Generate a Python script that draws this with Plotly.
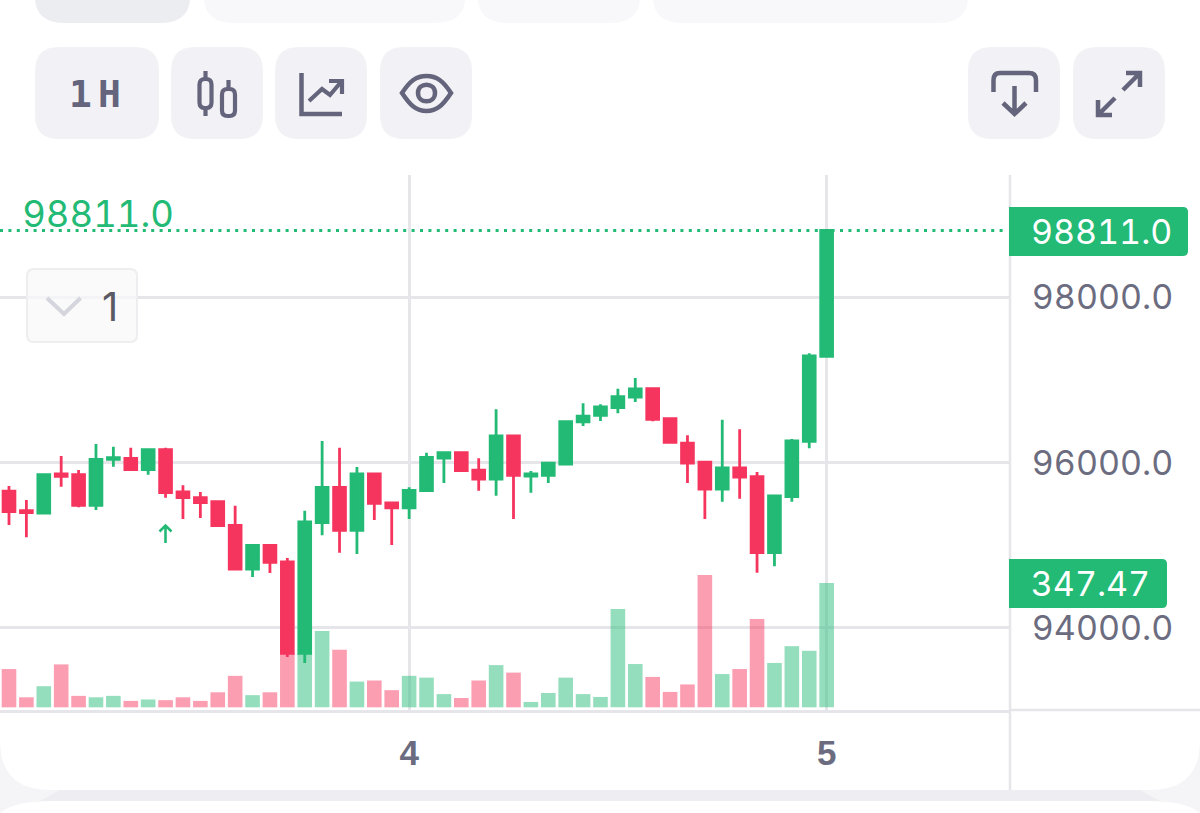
import re
import plotly.graph_objects as go

# ---------- data ----------
candle_index = list(range(48))
open_ = [95657,95419,95391,95863,95855,95484,96041,96053,95916,96158,95645,95577,
         95528,95242,94713,95000,94798,93692,95274,95702,95181,95863,95512,95452,
         95661,96057,96121,95911,95802,96323,95839,95847,95984,96493,96573,96666,
         96795,96896,96533,96238,96008,95681,95936,95831,94911,95589,96259,97288]
high = [95718,95548,95855,96081,95912,96226,96194,96182,96158,96182,95726,95645,
        95540,95480,95000,95000,94846,95419,96263,96182,95948,95863,95512,95702,
        96121,96121,96121,96053,96646,96323,95899,95996,96497,96719,96707,96896,
        97025,96896,96533,96331,96020,96521,96404,95887,95597,96287,97324,98811]
low = [95246,95096,95379,95710,95460,95427,95952,95916,95855,95577,95318,95330,
       95225,94713,94616,94664,93647,93575,95121,94911,94895,95306,95003,95318,
       95661,95754,95903,95661,95601,95318,95637,95754,95984,96444,96505,96598,
       96735,96501,96234,95754,95318,95528,95564,94668,94745,95528,96174,97288]
close = [95407,95395,95855,95835,95484,96041,96061,95916,96158,95637,95577,95516,
         95238,94713,95000,94794,93692,95282,95702,95181,95863,95508,95452,95665,
         96065,96121,95903,95802,96323,95847,95863,95996,96497,96565,96674,96799,
         96892,96525,96246,95996,95681,95936,95827,94911,95597,96263,97292,98811]
volume = [107,28,59,120,32,28,32,18,22,20,28,18,42,88,34,42,151,151,213,161,72,75,48,88,
          83,37,26,75,118,97,15,40,83,37,29,275,121,85,43,64,370,93,107,247,124,171,158,347.47]
price_ticks = [94000, 96000, 98000]
day_ticks = [23, 47]
day_labels = ["4", "5"]
button_label = "1H"
collapse_count = "1"

# ---------- palette ----------
GREEN = "#22ba75"
RED = "#f6355f"
GREEN_A = "rgba(34,186,117,0.48)"
RED_A = "rgba(246,53,95,0.48)"
GRID = "#e6e6ea"
ICON = "#64647c"
AXIS_TEXT = "#6c6c80"
BTN = "#f2f2f6"

# ---------- page pixel helpers ----------
L, R, T, B = 0, 1010, 175, 710
def px(x): return (x - L) / (R - L)
def py(y): return (B - y) / (B - T)

def path(d):
    toks = re.findall(r"[MLQCZ]|-?\d+\.?\d*", d)
    out, is_x = [], True
    for t in toks:
        if t.isalpha():
            out.append(t); is_x = True
        else:
            out.append(f"{px(float(t)):.5f}," if is_x else f"{py(float(t)):.5f}")
            is_x = not is_x
    return " ".join(out)

def rrect(x0, y0, x1, y1, r, rb=None):
    rb = r if rb is None else rb
    return (f"M {x0+r} {y0} L {x1-r} {y0} Q {x1} {y0} {x1} {y0+r} L {x1} {y1-rb} "
            f"Q {x1} {y1} {x1-rb} {y1} L {x0+rb} {y1} Q {x0} {y1} {x0} {y1-rb} L {x0} {y0+r} "
            f"Q {x0} {y0} {x0+r} {y0} Z")

def shape(d, fill=None, line=None, w=0, layer="below"):
    s = dict(type="path", xref="paper", yref="paper", path=path(d), layer=layer,
             line=dict(color=line or "rgba(0,0,0,0)", width=w))
    if fill:
        s["fillcolor"] = fill
    return s

shapes = []
# lower page bands
shapes.append(shape("M 0 790 L 1200 790 L 1200 813 L 0 813 Z", fill="#eeeef2"))
shapes.append(shape("M 0 740 Q 0 790 50 790 L 0 790 Z", fill="#f5f5f8"))
shapes.append(shape("M 1200 740 Q 1200 790 1150 790 L 1200 790 Z", fill="#f5f5f8"))
shapes.append(shape("M 0 790 L 60 790 L 40 801 Q 15 803 0 813 Z", fill="#f5f5f8"))
shapes.append(shape("M 1200 790 L 1140 790 L 1160 801 Q 1185 803 1200 813 Z", fill="#f5f5f8"))
shapes.append(shape("M 0 813 Q 15 801 50 801 L 1150 801 Q 1185 801 1200 813 Z", fill="#ffffff"))
# cropped tabs on top
shapes.append(shape("M 35 -30 L 190 -30 L 190 0 Q 188 23 160 23 L 65 23 Q 37 23 35 0 Z", fill="#ecedf1"))
shapes.append(shape("M 204 -30 L 465 -30 L 465 0 Q 463 23 435 23 L 234 23 Q 206 23 204 0 Z", fill="#f8f8fb"))
shapes.append(shape("M 478 -30 L 640 -30 L 640 0 Q 638 23 610 23 L 508 23 Q 480 23 478 0 Z", fill="#f8f8fb"))
shapes.append(shape("M 653 -30 L 968 -30 L 968 0 Q 966 23 938 23 L 683 23 Q 655 23 653 0 Z", fill="#f8f8fb"))
# buttons
for x0, x1 in [(35, 159), (171, 263), (275, 367), (380, 472), (968, 1060), (1073, 1165)]:
    shapes.append(shape(rrect(x0, 47, x1, 139, 24), fill=BTN))
# candle icon
shapes.append(shape(rrect(199.5, 79, 211.5, 108, 5.5), line=ICON, w=4.2))
shapes.append(shape(rrect(222, 89, 235, 116, 5.5), line=ICON, w=4.2))
shapes.append(shape("M 205.5 71 L 205.5 79 M 205.5 108 L 205.5 116 M 228.5 80 L 228.5 89", line=ICON, w=4.2))
# chart icon
shapes.append(shape("M 301.5 73 L 301.5 114 L 342 114", line=ICON, w=4.5))
shapes.append(shape("M 309 101 L 322 89 L 330 95 L 341 82 M 329 81 L 342 81 L 342 94", line=ICON, w=4.2))
# eye icon
shapes.append(shape("M 402 93 C 410 81 416 76 426.5 76 C 437 76 443 81 451 93 C 443 105 437 111 426.5 111 C 416 111 410 105 402 93 Z", line=ICON, w=4.5))
shapes.append(shape("M 418 93 C 418 82 435 82 435 93 C 435 104 418 104 418 93 Z", line=ICON, w=4.5))
# download icon
shapes.append(shape("M 993.5 92 L 993.5 80 Q 993.5 73 1000 73 L 1029 73 Q 1036 73 1036 80 L 1036 92", line=ICON, w=4.5))
shapes.append(shape("M 1014.5 86 L 1014.5 114 M 1003 103 L 1014.5 114 L 1026 103", line=ICON, w=4.5))
# expand icon
shapes.append(shape("M 1126 73 L 1140 73 L 1140 87 M 1140 73 L 1123 90", line=ICON, w=4.5))
shapes.append(shape("M 1098 100 L 1098 115 L 1112 115 M 1098 115 L 1115 98", line=ICON, w=4.5))
# right rail + bottom rule
shapes.append(shape("M 1010 175 L 1010 790", line=GRID, w=2.5))
shapes.append(shape("M 1010 710 L 1200 710", line=GRID, w=2.5))
# collapsed indicator box
shapes.append(shape(rrect(27, 269, 137, 342, 7), fill="rgba(248,248,250,0.75)", line="#eeeef1", w=2, layer="above"))
shapes.append(shape("M 47 298 L 64 314 L 80.5 298", line="#d5d5de", w=4, layer="above"))
# trade marker
shapes.append(shape("M 159.5 531.5 L 165.5 525.5 L 171.5 531.5 M 165.5 526 L 165.5 543", line=GREEN, w=2.6, layer="above"))
# last-price tags
shapes.append(shape("M 1009 207 L 1183 207 Q 1188 207 1188 212 L 1188 251 Q 1188 256 1183 256 L 1009 256 Z", fill=GREEN, layer="above"))
shapes.append(shape("M 1009 559 L 1162 559 Q 1167 559 1167 564 L 1167 603 Q 1167 608 1162 608 L 1009 608 Z", fill=GREEN, layer="above"))
# last-price dotted rule
shapes.append(dict(type="line", xref="paper", yref="y2", x0=0, x1=px(1008), y0=close[-1], y1=close[-1],
                   layer="above", line=dict(color=GREEN, width=3, dash="3px,5.4px")))

def note(text, x, y, color, size, family="Inter", anchor="left", weight=None):
    f = dict(family=family, size=size, color=color)
    if weight:
        f["weight"] = weight
    return dict(text=text, x=px(x), y=py(y), xref="paper", yref="paper", showarrow=False,
                xanchor=anchor, yanchor="middle", font=f, borderpad=0, borderwidth=0)

annotations = [
    note(f"{close[-1]:.1f}", 33, 214, GREEN, 36.5),
    note(f"{close[-1]:.1f}", 1041, 232, "#ffffff", 34),
    note(f"{volume[-1]:.2f}", 1036, 583, "#ffffff", 34),
    note(collapse_count, 110, 306, "#5a5a62", 40, anchor="center"),
    note(button_label, 75, 94, ICON, 38, family="DejaVu Sans Mono", weight=700),
]

fig = go.Figure()
fig.add_trace(go.Bar(
    x=candle_index, y=volume, yaxis="y", xaxis="x",
    marker=dict(color=[GREEN_A if c >= o else RED_A for o, c in zip(open_, close)], line=dict(width=0)),
    hoverinfo="skip", showlegend=False))
fig.add_trace(go.Candlestick(
    x=candle_index, open=open_, high=high, low=low, close=close, yaxis="y2", xaxis="x",
    whiskerwidth=0,
    increasing=dict(line=dict(color=GREEN, width=2.8), fillcolor=GREEN),
    decreasing=dict(line=dict(color=RED, width=2.8), fillcolor=RED),
    showlegend=False))

fig.update_layout(
    width=1200, height=813, autosize=False,
    margin=dict(l=L, r=1200 - R, t=T, b=813 - B, pad=0),
    paper_bgcolor="#ffffff", plot_bgcolor="#ffffff",
    showlegend=False, bargap=0.16, boxgap=0.32, boxgroupgap=0,
    shapes=shapes, annotations=annotations,
    xaxis=dict(range=[-0.517, 57.54], rangeslider=dict(visible=False), type="linear",
               tickmode="array", tickvals=day_ticks, ticktext=day_labels,
               showgrid=True, gridcolor=GRID, gridwidth=2.5, zeroline=False,
               showline=True, linecolor=GRID, linewidth=2.5,
               ticks="outside", ticklen=10, tickcolor="rgba(0,0,0,0)",
               tickfont=dict(family="Liberation Sans", size=35, color=AXIS_TEXT, weight=700)),
    yaxis=dict(range=[-7.5, 1488], visible=False, showgrid=False, zeroline=False, fixedrange=True),
    yaxis2=dict(range=[93006, 99483], overlaying="y", side="right", anchor="x",
                tickmode="array", tickvals=price_ticks,
                ticktext=[f"{v:.1f}" for v in price_ticks],
                showgrid=True, gridcolor=GRID, gridwidth=2.5, zeroline=False, showline=False,
                ticks="outside", ticklen=14, tickcolor="rgba(0,0,0,0)",
                tickfont=dict(family="Inter", size=34, color=AXIS_TEXT)),
)

css = (".ytick text, .y2tick text, .annotation-text{font-feature-settings:'tnum' 1;}"
       ".annotation[data-index='3'] text{font-feature-settings:'tnum' 0;}"
       ".annotation[data-index='4'] text{letter-spacing:6px;}")
fig.write_html("out.html", config=dict(displayModeBar=False),
               post_script=("document.body.style.margin='0';document.body.style.overflow='hidden';"
                            "var s=document.createElement('style');s.textContent=\"" + css + "\";"
                            "document.head.appendChild(s);"))
